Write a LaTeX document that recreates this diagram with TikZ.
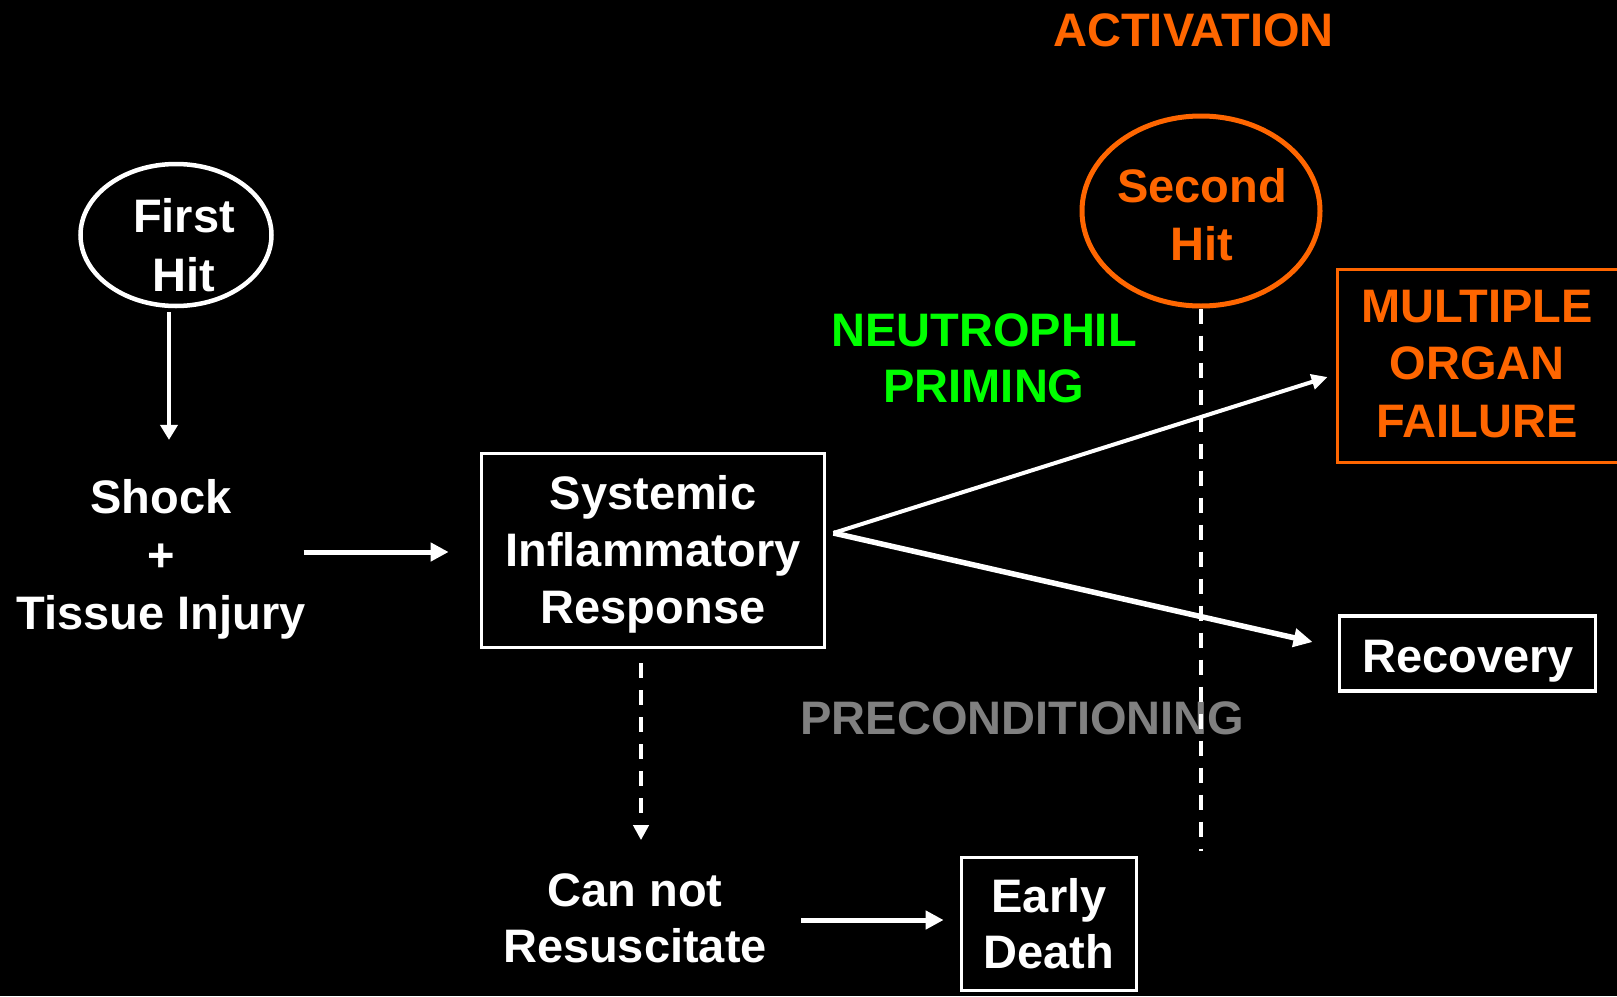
\documentclass[tikz,border=0pt]{standalone}
\usepackage{fontspec}
\setmainfont{Liberation Sans}
\usetikzlibrary{shapes.geometric,arrows.meta,calc}
\definecolor{hitorange}{RGB}{255,102,0}
\definecolor{primegreen}{RGB}{0,255,0}
\definecolor{precgray}{RGB}{128,128,128}
\begin{document}
\begin{tikzpicture}[x=1pt,y=-1pt,
  sk/.style={font=\fontsize{47}{#1}\selectfont\bfseries},
  lbl/.style={sk=58, text=white, align=center, inner sep=0pt},
  wbox/.style={lbl, draw=white, line width=3.8pt, rectangle},
  obox/.style={draw=hitorange, line width=3.8pt, rectangle, inner sep=0pt},
  arr/.style={draw=white, line width=5pt, -{Triangle[length=#1]}},
  arr/.default={16pt,width=17pt},
  dashline/.style={draw=white, line width=4.5pt, dash pattern=on 15pt off 12pt},
]
% canvas
\fill[black] (0,0) rectangle (1617,996);
\useasboundingbox (0,0) rectangle (1617,996);

% first hit
\node[draw=white, line width=4.5pt, ellipse, minimum width=191pt, minimum height=142pt, inner sep=0pt] (first) at (176,235) {};
\node[lbl, sk=59] (firsttxt) at (184,245) {First\\Hit};

% shock + tissue injury
\node[lbl, sk=58] (shock) at (161,559) {Shock\\+\\Tissue Injury};

% systemic inflammatory response
\node[wbox, minimum width=343pt, minimum height=194pt] (sir) at (653,550.5) {};
\node[lbl, sk=57] (sirtxt) at (653,554) {Systemic\\Inflammatory\\Response};

% can not resuscitate / early death
\node[lbl, sk=56] (cannot) at (635,918) {Can not\\Resuscitate};
\node[wbox, sk=56, minimum width=175pt, minimum height=133pt] (early) at (1049,924) {Early\\Death};

% second hit and activation
\node[draw=hitorange, line width=5pt, ellipse, minimum width=238pt, minimum height=190pt, inner sep=0pt] (second) at (1201,211) {};
\node[lbl, text=hitorange] (secondtxt) at (1202,215) {Second\\Hit};
\node[lbl, text=hitorange] (act) at (1193.5,30.5) {ACTIVATION};

% priming / preconditioning labels
\node[lbl, sk=56, text=primegreen] (neut) at (984,358) {NEUTROPHIL\\PRIMING};
\node[lbl, text=precgray] (prec) at (1022.5,718) {PRECONDITIONING};

% outcomes
\node[obox, minimum width=295pt, minimum height=193pt] (mof) at (1485,366) {};
\node[lbl, sk=57.5, text=hitorange] (moftxt) at (1477,364) {MULTIPLE\\ORGAN\\FAILURE};
\node[wbox, minimum width=256pt, minimum height=75pt] (rec) at (1467.5,653.5) {};
\node[lbl] (rectxt) at (1468,661) {Recovery};

% time line below the second hit
\coordinate (tlend) at (1200.5,851);
\draw[dashline] (second.south) -- (second.south |- tlend);

% connectors
\draw[arr={15pt,width=17pt}, line width=4pt] ($(first.south)+(-7,4)$) -- ($(shock.north)+(8,-39)$);
\draw[arr={18pt,width=18pt}] ($(shock.east)+(-2,-7)$) -- ($(sir.west)+(-31,1.5)$);
\draw[arr={16pt,width=15pt}, line width=4pt] ($(sir.east)+(7,-17.5)$) -- ($(mof.west)+(-8,11)$);
\draw[arr={19pt,width=18pt}, line width=5.5pt] ($(sir.east)+(7,-17.5)$) -- ($(rec.west)+(-25,-11.5)$);
\draw[arr={15pt,width=15pt}, line width=4.5pt, dash pattern=on 15pt off 12pt] ($(sir.south)+(-12,14)$) -- ($(cannot.north)+(6,-33)$);
\draw[arr={18pt,width=18pt}] ($(cannot.east)+(34,2)$) -- ($(early.west)+(-16,-4)$);
\end{tikzpicture}
\end{document}
